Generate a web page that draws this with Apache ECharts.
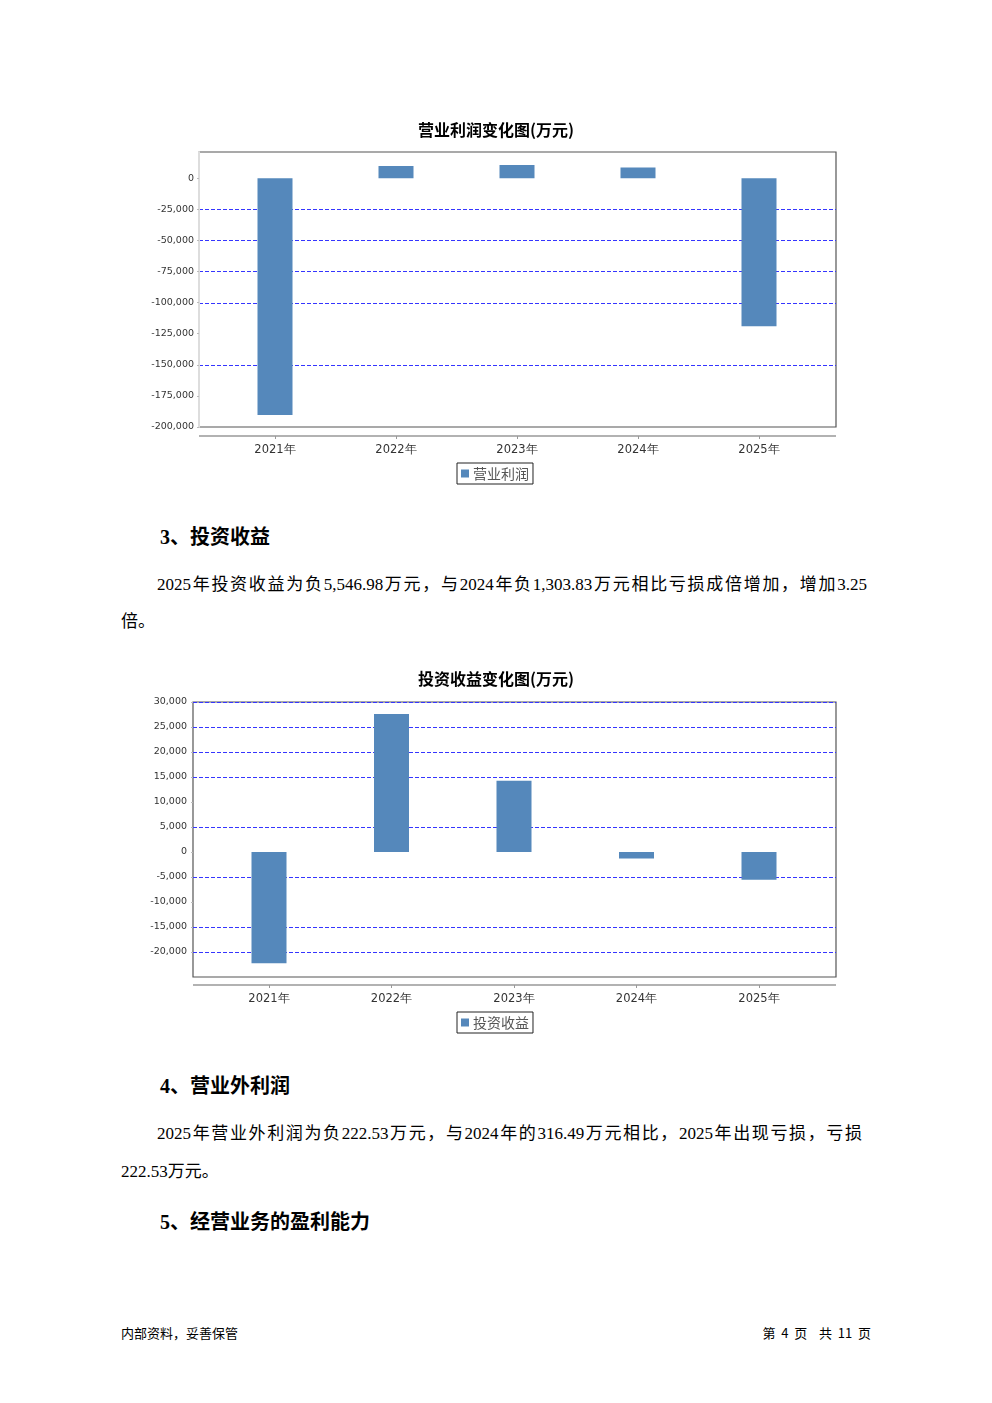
<!DOCTYPE html>
<html><head><meta charset="utf-8">
<script src="https://cdn.jsdelivr.net/npm/echarts@6/dist/echarts.min.js"></script>
<style>
html,body{margin:0;padding:0;background:#fff;}
body{width:992px;height:1403px;position:relative;overflow:hidden;}
.t{position:absolute;white-space:nowrap;color:#000;}
.h{font-family:"Liberation Serif","Noto Sans CJK SC",serif;font-weight:bold;font-size:20px;line-height:24px;}
.p{font-family:"Liberation Serif","Noto Sans CJK SC",serif;font-size:17px;line-height:24px;}
.j{text-align:justify;text-align-last:justify;}
.f{font-family:"Noto Sans CJK SC",sans-serif;font-size:13px;line-height:16px;}
#c1{position:absolute;left:0;top:0;width:992px;height:500px;}
#c2{position:absolute;left:0;top:650px;width:992px;height:400px;}
</style></head>
<body>
<div id="c1"></div>
<div id="c2"></div>
<div class="t h" style="left:160px;top:525px;">3、投资收益</div>
<div class="t p j" style="left:157px;top:573px;width:710px;">2025年投资收益为负5,546.98万元，与2024年负1,303.83万元相比亏损成倍增加，增加3.25</div>
<div class="t p" style="left:121px;top:610px;">倍。</div>
<div class="t h" style="left:160px;top:1074px;">4、营业外利润</div>
<div class="t p j" style="left:157px;top:1122px;width:705px;">2025年营业外利润为负222.53万元，与2024年的316.49万元相比，2025年出现亏损，亏损</div>
<div class="t p" style="left:121px;top:1160px;">222.53万元。</div>
<div class="t h" style="left:160px;top:1210px;">5、经营业务的盈利能力</div>
<div class="t f" style="left:121px;top:1325px;">内部资料，妥善保管</div>
<div class="t f" style="right:121px;top:1325px;">第&nbsp;&nbsp;4&nbsp;&nbsp;页&nbsp;&nbsp;&nbsp;&nbsp;共&nbsp;&nbsp;11&nbsp;&nbsp;页</div>
<script>
// ---- data ----
var years = ['2021年', '2022年', '2023年', '2024年', '2025年'];
var opProfit = [-190300, 9700, 10500, 8600, -119100];
var opGrid = [-25000, -50000, -75000, -100000, -150000];
var invIncome = [-22260, 27600, 14260, -1303.83, -5546.98];
var invGrid = [30000, 25000, 20000, 15000, 5000, -5000, -15000, -20000];

var BAR = '#5588bb';
function fmt(v){ return Math.round(v).toLocaleString('en-US'); }

function build(o){
  return {
    animation:false,
    title:{text:o.title,left:'center',top:o.titleTop,padding:0,
      textStyle:{fontFamily:'Noto Sans CJK SC',fontWeight:'bold',fontSize:16,color:'#000'}},
    legend:{data:[o.name],left:457,top:o.legendTop,orient:'horizontal',
      padding:[3,4,3,4],borderColor:'#222',borderWidth:1,borderRadius:0,
      itemWidth:8,itemHeight:8,itemGap:4,icon:'rect',
      textStyle:{fontFamily:'Noto Sans CJK SC',fontSize:14,color:'#555',lineHeight:15,padding:[0,0,0,-1]}},
    grid:{left:o.gl,right:992-o.gr,top:o.gt,height:o.gh,containLabel:false},
    xAxis:{type:'category',data:years,offset:o.xoff,
      axisLine:{show:false,onZero:false},
      axisTick:{show:true,alignWithLabel:true,length:3,lineStyle:{color:'#999'}},
      axisLabel:{margin:8,fontFamily:'DejaVu Sans',fontSize:11.5,color:'#333'},
      splitLine:{show:false}},
    yAxis:{type:'value',min:o.min,max:o.max,interval:o.interval,offset:o.yoff,
      axisLine:{show:o.ylineShow,lineStyle:{color:o.ylineColor,width:2}},
      axisTick:{show:true,length:2,lineStyle:{color:'#bbb'}},
      axisLabel:{margin:o.ymargin,fontFamily:'DejaVu Sans',fontSize:9.5,color:'#333',
        showMinLabel:o.showMin,showMaxLabel:o.showMax,formatter:fmt},
      splitLine:{show:false}},
    series:[
      {type:'bar',name:o.name,data:o.data,barWidth:35,z:3,
        itemStyle:{color:BAR}}
    ]
  };
}

function decorate(chart,o){
  var g = [
    {type:'rect',shape:{x:o.bx,y:o.gt,width:o.bw,height:o.gh},z:-10,
      style:{fill:'none',stroke:'#555',lineWidth:1.2}},
    {type:'line',shape:{x1:o.bx,y1:o.gt+o.gh+o.xoff,x2:o.bx+o.bw,y2:o.gt+o.gh+o.xoff},
      style:{stroke:'#999',lineWidth:1.5}}
  ];
  o.grid.forEach(function(v){
    var y = Math.round(chart.convertToPixel({yAxisIndex:0},v))+0.5;
    g.push({type:'line',z:-5,shape:{x1:o.bx,y1:y,x2:o.bx+o.bw,y2:y},
      style:{stroke:'#3535ff',lineWidth:1,lineDash:[4,2]}});
  });
  chart.setOption({graphic:g});
}

var o1 = {title:'营业利润变化图(万元)',name:'营业利润',data:opProfit,grid:opGrid,
  titleTop:122,legendTop:463,gl:214.5,gr:819.5,gt:152,gh:275,xoff:9,
  min:-200000,max:21000,interval:25000,yoff:15.5,ymargin:5,ylineShow:true,ylineColor:'#ddd',
  showMin:true,showMax:false,bx:199,bw:637};
var c1 = echarts.init(document.getElementById('c1'),null,{renderer:'canvas'});
c1.setOption(build(o1));
decorate(c1,o1);

var o2 = {title:'投资收益变化图(万元)',name:'投资收益',data:invIncome,grid:invGrid,
  titleTop:21,legendTop:362,gl:207.75,gr:820.25,gt:52,gh:275,xoff:8,
  min:-25000,max:30000,interval:5000,yoff:14.75,ymargin:6,ylineShow:false,ylineColor:'#555',
  showMin:false,showMax:true,bx:193,bw:643};
var c2 = echarts.init(document.getElementById('c2'),null,{renderer:'canvas'});
c2.setOption(build(o2));
decorate(c2,o2);
</script>
</body></html>
